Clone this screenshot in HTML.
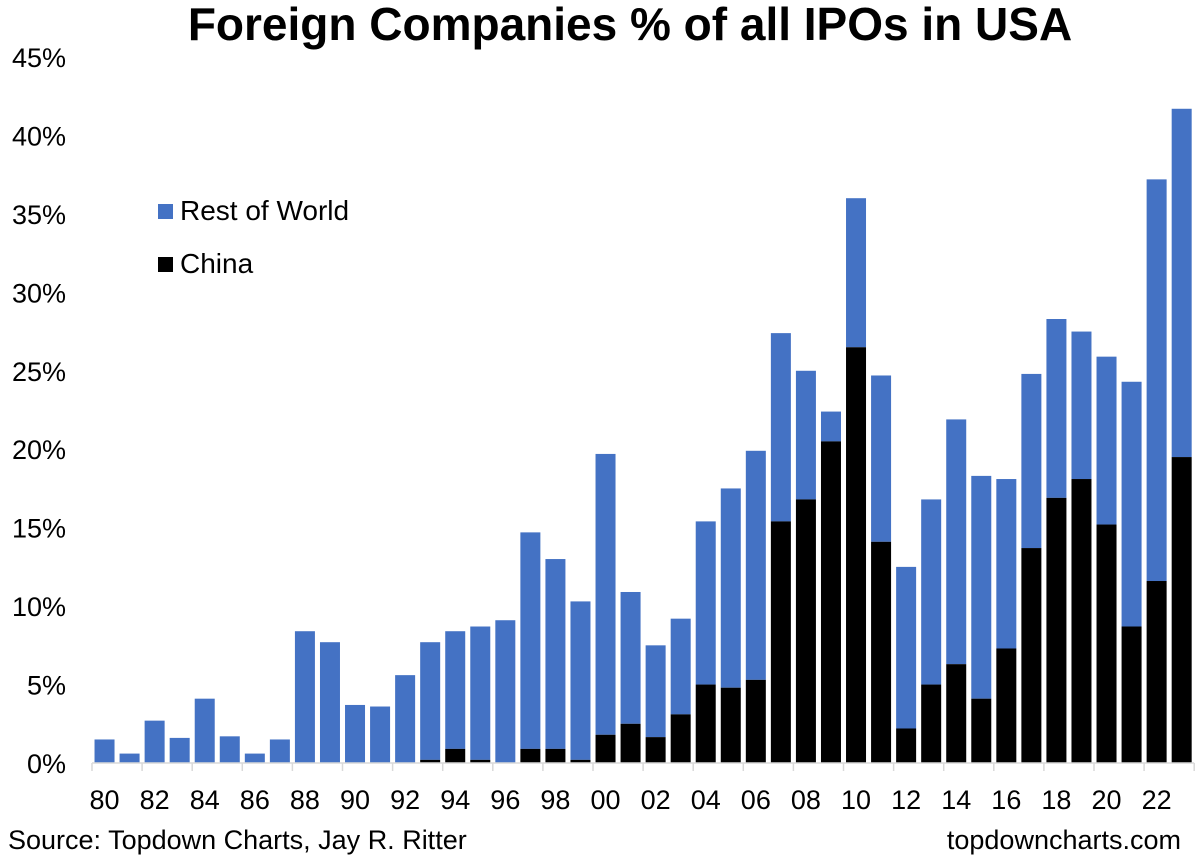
<!DOCTYPE html>
<html><head><meta charset="utf-8"><style>
body{margin:0;background:#fff;font-family:"Liberation Sans",Arial,sans-serif;}
svg text{font-family:"Liberation Sans",Arial,sans-serif;}
</style></head><body>
<svg id="chart" width="1202" height="857" xmlns="http://www.w3.org/2000/svg">
<text x="630" y="40" text-anchor="middle" font-size="46" font-weight="bold">Foreign Companies % of all IPOs in USA</text>
<g id="yaxis"></g><g id="bars"></g><g id="xaxis"></g>
<rect x="158" y="204" width="15" height="15" fill="#4472C4"/>
<text x="180" y="220" font-size="28">Rest of World</text>
<rect x="158" y="257" width="15" height="15" fill="#000"/>
<text x="180" y="273" font-size="28">China</text>
<text x="8" y="849" font-size="27">Source: Topdown Charts, Jay R. Ritter</text>
<text x="1181" y="849" font-size="27" text-anchor="end">topdowncharts.com</text>
</svg>
<script>
const years=[80,81,82,83,84,85,86,87,88,89,90,91,92,93,94,95,96,97,98,99,0,1,2,3,4,5,6,7,8,9,10,11,12,13,14,15,16,17,18,19,20,21,22,23];
const totals=[1.5,0.6,2.7,1.6,4.1,1.7,0.6,1.5,8.4,7.7,3.7,3.6,5.6,7.7,8.4,8.7,9.1,14.7,13.0,10.3,19.7,10.9,7.5,9.2,15.4,17.5,19.9,27.4,25.0,22.4,36.0,24.7,12.5,16.8,21.9,18.3,18.1,24.8,28.3,27.5,25.9,24.3,37.2,41.7];
const china=[0,0,0,0,0,0,0,0,0,0,0,0,0,0.2,0.9,0.2,0,0.9,0.9,0.2,1.8,2.5,1.65,3.1,5.0,4.8,5.3,15.4,16.8,20.5,26.5,14.1,2.2,5.0,6.3,4.1,7.3,13.7,16.9,18.1,15.2,8.7,11.6,19.5];
const yTicks=[0,5,10,15,20,25,30,35,40,45];
const NS="http://www.w3.org/2000/svg";
const x0=92,slot=25.05,bw=20,y0=763,k=(763-57)/45;
const Y=v=>y0-v*k, X=i=>x0+i*slot;
function mk(t,a,p){const e=document.createElementNS(NS,t);for(const n in a)e.setAttribute(n,a[n]);p.appendChild(e);return e;}
const ya=document.getElementById('yaxis'),bg=document.getElementById('bars'),xa=document.getElementById('xaxis');
yTicks.forEach(v=>{const t=mk('text',{x:66,y:Y(v)+10,'text-anchor':'end','font-size':27},ya);t.textContent=v+'%';

});
years.forEach((yr,i)=>{
 const cx=X(i)+slot/2;
 const r=mk('rect',{x:cx-bw/2,y:Y(totals[i]),width:bw,height:(totals[i]-china[i])*k,fill:'#4472C4'},bg);
 
 
 if(china[i]>0){const c=mk('rect',{x:cx-bw/2,y:Y(china[i]),width:bw,height:china[i]*k,fill:'#000'},bg);
 
 }
 if(i%2==0){const t=mk('text',{x:cx,y:809,'text-anchor':'middle','font-size':27},xa);t.textContent=String(yr).padStart(2,'0');
 
 
 mk('line',{x1:X(i),x2:X(i),y1:y0,y2:y0+8,stroke:'#d9d9d9','stroke-width':1.5},xa);}
});
mk('line',{x1:X(44),x2:X(44),y1:y0,y2:y0+8,stroke:'#d9d9d9','stroke-width':1.5},xa);
const ax=mk('line',{x1:x0,x2:X(44),y1:y0,y2:y0,stroke:'#d9d9d9','stroke-width':1.5},xa);


</script>
</body></html>
